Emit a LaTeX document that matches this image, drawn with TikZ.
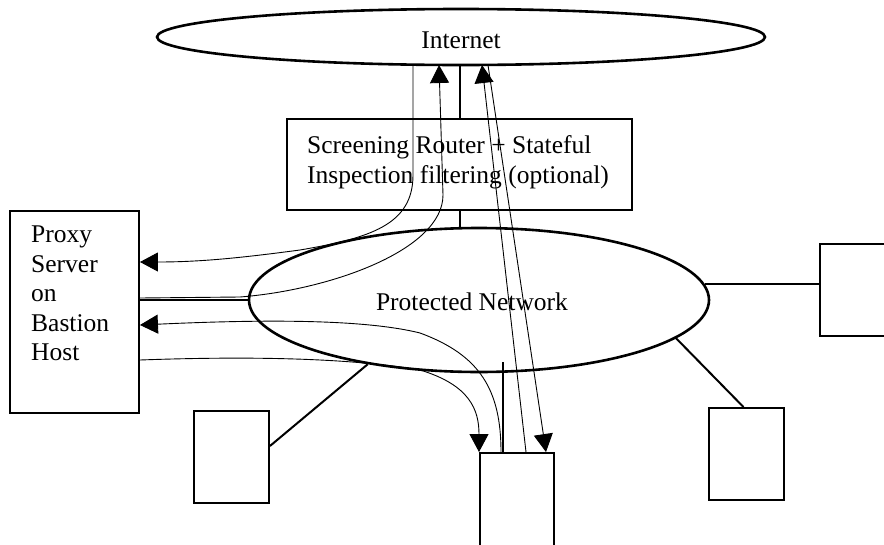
\documentclass[tikz,border=0pt]{standalone}
\usepackage{fontspec}
\setmainfont{Liberation Serif}
\usetikzlibrary{shapes.geometric,arrows.meta}
\begin{document}
\begin{tikzpicture}[x=1pt,y=-1pt,
  cloud/.style={ellipse, draw, line width=2.6pt, inner sep=0pt},
  boxnode/.style={rectangle, draw, line width=1.9pt, inner sep=0pt},
  conn/.style={line width=2pt},
  flow/.style={line width=0.9pt},
  tip/.style={-{Triangle[length=18pt,width=19pt]}},
  lbl/.style={font=\fontsize{25.5}{29.5}\selectfont, inner sep=0pt, align=left},
]
\useasboundingbox (0,0) rectangle (884,544);

% clouds
\node[cloud, minimum width=608pt, minimum height=56pt] (inet) at (461,37) {};
\node[lbl, anchor=base] (inettxt) at (461,48) {Internet};
\node[cloud, minimum width=460pt, minimum height=144pt] (pn) at (479,300) {};
\node[lbl, anchor=base] (pntxt) at (472,310) {Protected Network};

% boxes
\node[boxnode, minimum width=345pt, minimum height=91pt] (router) at (459.5,164.5) {};
\node[lbl, anchor=north west] (routertxt) at (307,135.6) {Screening Router + Stateful\\Inspection filtering (optional)};
\node[boxnode, minimum width=129pt, minimum height=202pt] (proxy) at (74.5,312) {};
\node[lbl, anchor=north west] (proxytxt) at (31,226) {Proxy\\Server\\on\\Bastion\\Host};
\node[boxnode, minimum width=80pt, minimum height=92pt] (rbox) at (860,290) {};
\node[boxnode, minimum width=75pt, minimum height=92pt] (br) at (746.5,454) {};
\node[boxnode, minimum width=75pt, minimum height=92pt] (bl) at (231.5,457) {};
\node[boxnode, minimum width=74pt, minimum height=117pt] (bc) at (517,511.5) {};

% solid connections
\draw[conn] (router.north) -- (inet.south -| router.north);
\draw[conn] (router.south) -- (router.south |- pn.north);
\draw[conn] (pn.west) -- (pn.west -| proxy.east);
\draw[conn] (pn.4) -- (pn.4 -| rbox.west);
\draw[conn] (pn.-11) -- ([xshift=-3pt]br.north);
\draw[conn] (pn.210) -- ([yshift=11pt]bl.east);
\coordinate (bctick) at (503,362);
\draw[conn] ([xshift=-14pt]bc.north) -- (bctick);

% traffic flows
\coordinate (ia) at (413,64);
\coordinate (ib) at (439,65);
\coordinate (ic) at (482,65);
\coordinate (id) at (488,65);

% Internet -> proxy
\draw[flow,tip] (ia) -- (413,175) .. controls (413,225) and (370,238) .. (300,250)
  .. controls (240,258) and (200,262) .. ([yshift=50pt]proxy.east);
% proxy -> Internet
\draw[flow,tip] ([yshift=14pt]proxy.east) -- (240,297) .. controls (330,290) and (443,250) .. (443,195) -- (ib);
% host -> Internet
\draw[flow,tip] ([xshift=9pt]bc.north) -- (ic);
% Internet -> host
\draw[flow,tip] (id) -- ([xshift=29pt]bc.north);
% host -> proxy
\draw[flow,tip] ([xshift=-16pt]bc.north) .. controls (501,390) and (480,355) .. (420,333)
  .. controls (360,318) and (250,320) .. ([yshift=-13pt]proxy.east);
% proxy -> host
\draw[flow,tip] ([yshift=-48pt]proxy.east) .. controls (250,356) and (350,358) .. (420,370)
  .. controls (470,385) and (479,410) .. ([xshift=-38pt]bc.north);
\end{tikzpicture}
\end{document}
